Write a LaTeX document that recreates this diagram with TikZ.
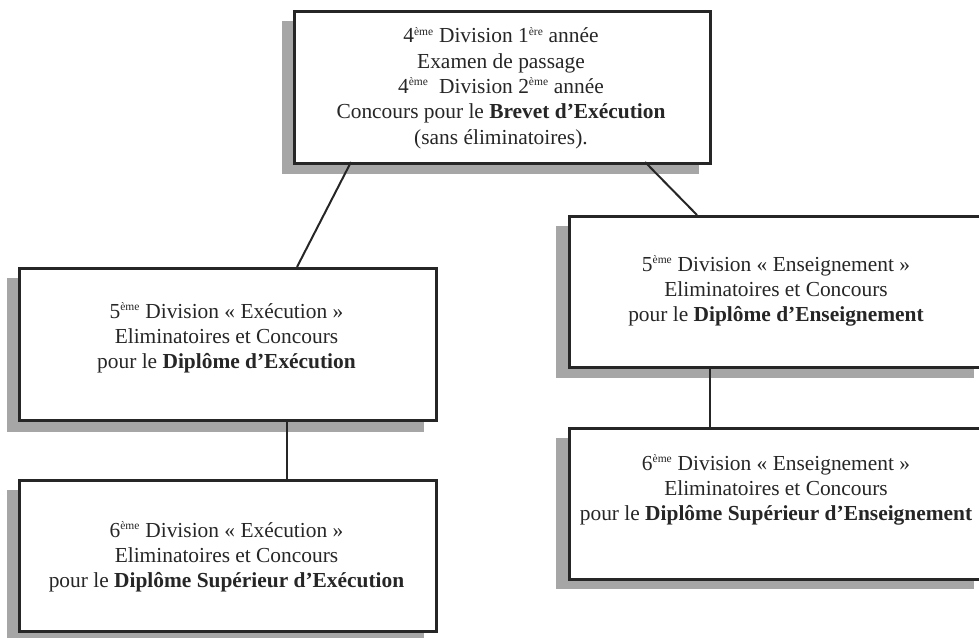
\documentclass[tikz,border=0pt]{standalone}
\usepackage{fontspec}
\setmainfont{Liberation Serif}
\newcommand{\sx}[1]{\textsuperscript{\fontsize{11.5}{11.5}\selectfont #1}}
\begin{document}
\begin{tikzpicture}[x=1pt,y=-1pt,
  boxnode/.style={draw=black!85,line width=2.6pt,fill=white,inner sep=0pt,anchor=north west},
  txt/.style={align=center,font=\fontsize{21.4}{25.3}\selectfont,inner sep=0pt,text=black!85},
  conn/.style={draw=black!85,line width=2pt}]
\useasboundingbox (0,0) rectangle (979,637);
\clip (0,0) rectangle (979,637);
% shadows
\fill[black!35] (282,21) rectangle (699,174);
\fill[black!35] (7,278) rectangle (424,432);
\fill[black!35] (7,490) rectangle (424,641);
\fill[black!35] (556,226) rectangle (974,378);
\fill[black!35] (556,438) rectangle (974,589);
% boxes
\node[boxnode,minimum width=416pt,minimum height=152pt] (top) at (293,10) {};
\node[boxnode,minimum width=417pt,minimum height=152pt] (l1) at (18,267) {};
\node[boxnode,minimum width=417pt,minimum height=151pt] (l2) at (18,479) {};
\node[boxnode,minimum width=418pt,minimum height=151pt] (r1) at (568,215) {};
\node[boxnode,minimum width=418pt,minimum height=151pt] (r2) at (568,427) {};
% connectors
\coordinate (tA) at (351,162);
\coordinate (l1A) at (297,267);
\coordinate (tB) at (645,162);
\coordinate (r1A) at (697,215);
\draw[conn] (tA) -- (l1A);
\draw[conn] (tB) -- (r1A);
\draw[conn] (l1.south -| 287,0) -- (l2.north -| 287,0);
\draw[conn] (r1.south -| 710,0) -- (r2.north -| 710,0);
% texts
\node[txt] (ttop) at (501,88) {4\sx{ème} Division 1\sx{ère} année\\Examen de passage\\4\sx{ème}\ \ Division 2\sx{ème} année\\Concours pour le \textbf{Brevet d’Exécution}\\(sans éliminatoires).};
\node[txt] (tl1) at (226.5,338) {5\sx{ème} Division « Exécution »\\Eliminatoires et Concours\\pour le \textbf{Diplôme d’Exécution}};
\node[txt] (tl2) at (226.5,557) {6\sx{ème} Division « Exécution »\\Eliminatoires et Concours\\pour le \textbf{Diplôme Supérieur d’Exécution}};
\node[txt] (tr1) at (776,291) {5\sx{ème} Division « Enseignement »\\Eliminatoires et Concours\\pour le \textbf{Diplôme d’Enseignement}};
\node[txt] (tr2) at (776,490) {6\sx{ème} Division « Enseignement »\\Eliminatoires et Concours\\pour le \textbf{Diplôme Supérieur d’Enseignement}};
\end{tikzpicture}
\end{document}
